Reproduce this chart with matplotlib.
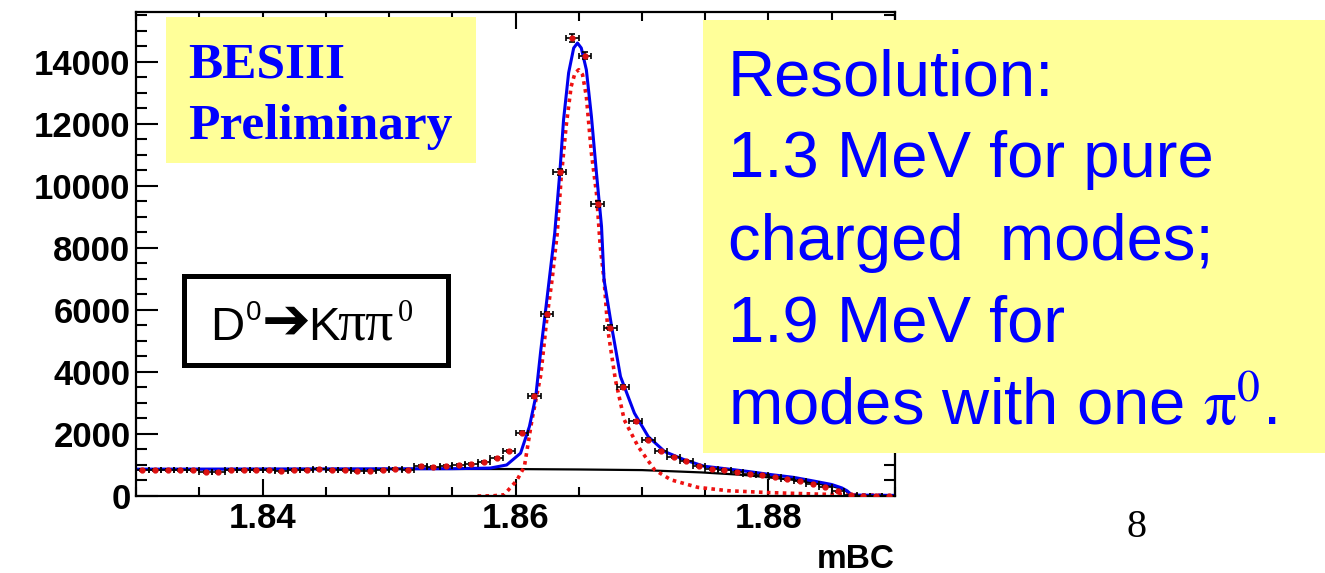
import numpy as np
import matplotlib.pyplot as plt
from matplotlib.patches import Rectangle

plt.rcParams['mathtext.fontset'] = 'stix'

# histogram of mBC, 60 bins of 1 MeV between 1.83 and 1.89 GeV
bin_lo = 1.83
bin_hi = 1.89
n_bins = 60
counts = [850, 845, 850, 840, 850, 780, 770, 845, 840, 845,
          840, 790, 850, 830, 860, 845, 850, 790, 820, 840,
          860, 850, 968, 925, 968, 1011, 1043, 1107, 1215, 1452,
          2043, 3216, 5861, 10450, 14765, 14190, 9420, 5430, 3505, 2409,
          1817, 1452, 1247, 1140, 978, 882, 850, 780, 700, 690,
          600, 540, 480, 400, 300, 150, 40, 8, 3, 0]

# fit curves
tot_x = [1.8300, 1.8400, 1.8500, 1.8550, 1.8580, 1.8593, 1.8604, 1.8611, 1.8616, 1.8620,
         1.8625, 1.8631, 1.8635, 1.8638, 1.8642, 1.8646, 1.8649, 1.8652, 1.8656, 1.8660,
         1.8664, 1.8668, 1.8670, 1.8676, 1.8683, 1.8694, 1.8705, 1.8718, 1.8734, 1.8749,
         1.8768, 1.8784, 1.8800, 1.8820, 1.8836, 1.8850, 1.8858, 1.8862, 1.8866, 1.8900]
tot_y = [865, 870, 875, 880, 900, 1000, 1380, 2240, 3200, 4700,
         6400, 8470, 10410, 12130, 13640, 14440, 14600, 14440, 13740, 12240,
         10410, 8690, 6970, 5460, 3850, 2670, 1910, 1430, 1160, 960,
         870, 790, 700, 600, 480, 370, 260, 170, 30, 20]

sig_x = [1.8570, 1.8582, 1.8591, 1.8601, 1.8607, 1.8613, 1.8620, 1.8625, 1.8629, 1.8633,
         1.8636, 1.8640, 1.8644, 1.8647, 1.8650, 1.8653, 1.8656, 1.8660, 1.8664, 1.8667,
         1.8670, 1.8673, 1.8679, 1.8686, 1.8697, 1.8710, 1.8723, 1.8744, 1.8768, 1.8800,
         1.8840, 1.8890]
sig_y = [0, 5, 40, 500, 945, 2450, 3900, 5800, 7000, 8470,
         10200, 11910, 13200, 13630, 13740, 13580, 12880, 11050, 9760, 8040,
         6970, 5350, 3740, 2450, 1590, 840, 520, 280, 170, 110,
         60, 25]

bkg_x = [1.8300, 1.8400, 1.8500, 1.8600, 1.8650, 1.8700, 1.8747, 1.8780, 1.8800, 1.8820,
         1.8836, 1.8850, 1.8858, 1.8862, 1.8865, 1.8900]
bkg_y = [860, 868, 872, 868, 855, 835, 760, 680, 600, 520,
         420, 320, 230, 140, 0, 0]

x_ticks = [1.84, 1.86, 1.88]
y_ticks = [0, 2000, 4000, 6000, 8000, 10000, 12000, 14000]

res_lines = ["Resolution:", "1.3 MeV for pure", "charged  modes;", "1.9 MeV for",
             r"modes with one $\mathrm{\pi}^{\mathrm{0}}$."]

W, H = 1325, 573
def fx(p):
    return p / W
def fy(p):
    return 1 - p / H

fig = plt.figure(figsize=(W / 100, H / 100), dpi=100)
ax = fig.add_axes([fx(136), fy(496), (895 - 136) / W, (496 - 12) / H])

edges = np.linspace(bin_lo, bin_hi, n_bins + 1)
centers = 0.5 * (edges[:-1] + edges[1:])
half = 0.5 * (edges[1] - edges[0])
counts = np.array(counts, dtype=float)

ax.plot(bkg_x, bkg_y, color='black', lw=1.6, zorder=2)
ax.plot(sig_x, sig_y, color='#ee1111', lw=2.6, linestyle=(0, (1, 1.2)), zorder=2)
ax.plot(tot_x, tot_y, color='#0000ee', lw=2.2, zorder=2)
ax.errorbar(centers, counts, xerr=half, yerr=np.sqrt(counts), fmt='o', ms=3.5,
            mfc='#dd1111', mec='#dd1111', ecolor='black', elinewidth=1.2,
            capsize=2, capthick=1.2, zorder=3)

ax.set_xlim(bin_lo, bin_hi)
ax.set_ylim(0, 15600)
ax.set_xticks(x_ticks, [f"{v:.2f}" for v in x_ticks])
ax.set_yticks(y_ticks, [str(v) for v in y_ticks])
ax.set_xticks(np.arange(1.83, 1.8901, 0.005), minor=True)
ax.set_yticks(np.arange(0, 15600, 500), minor=True)
ax.tick_params(which='both', direction='in', top=True, right=True, width=1.5)
ax.tick_params(axis='y', which='major', length=15.8, pad=4)
ax.tick_params(axis='y', which='minor', length=7.9)
ax.tick_params(axis='x', which='major', length=12, pad=4)
ax.tick_params(axis='x', which='minor', length=6.5)
for lab in ax.get_xticklabels() + ax.get_yticklabels():
    lab.set_fontfamily('Liberation Sans')
    lab.set_fontweight('bold')
    lab.set_fontsize(25)
for s in ax.spines.values():
    s.set_linewidth(1.6)

fig.text(fx(895), fy(568), "mBC", ha='right', va='baseline',
         family='Liberation Sans', weight='bold', fontsize=24)

# BESIII Preliminary box
fig.add_artist(Rectangle((fx(166), fy(163)), (476 - 166) / W, (163 - 17) / H,
                         transform=fig.transFigure, fc='#ffff99', ec='none', zorder=5))
fig.text(fx(188), fy(78), "BESIII", family='Liberation Serif', weight='bold',
         fontsize=37, color='#0000ff', va='baseline', zorder=6)
fig.text(fx(188), fy(139), "Preliminary", family='Liberation Serif', weight='bold',
         fontsize=37, color='#0000ff', va='baseline', zorder=6)

# decay mode box
fig.add_artist(Rectangle((fx(184), fy(365)), (448 - 184) / W, (365 - 276) / H,
                         transform=fig.transFigure, fc='white', ec='black', lw=3.6, zorder=5))
fig.text(fx(210), fy(340), "D", family='Liberation Sans', fontsize=34,
         va='baseline', zorder=6)
fig.text(fx(246), fy(320), "0", family='Liberation Sans', fontsize=20,
         va='baseline', zorder=6)
fig.text(fx(262), fy(322), "➔", family=['DejaVu Sans'], fontsize=42,
         va='center', zorder=6)
fig.text(fx(308), fy(340), "K", family='Liberation Sans', fontsize=34,
         va='baseline', zorder=6)
fig.text(fx(337), fy(340), "ππ", family='Liberation Serif', fontsize=40,
         va='baseline', zorder=6)
fig.text(fx(398), fy(321), "0", family='Liberation Serif', fontsize=22,
         va='baseline', zorder=6)

# resolution box
fig.add_artist(Rectangle((fx(703), fy(453)), (W - 703) / W, (453 - 20) / H,
                         transform=fig.transFigure, fc='#ffff99', ec='none', zorder=5))
for line, base in zip(res_lines, [95, 177, 260, 342, 425]):
    fig.text(fx(728), fy(base), line, family='Liberation Sans', fontsize=47,
             color='#0000ff', va='baseline', zorder=6)

fig.text(fx(1137), fy(537), "8", family='Liberation Serif', fontsize=29,
         ha='center', va='baseline')

fig.savefig('out.png', dpi=100)
